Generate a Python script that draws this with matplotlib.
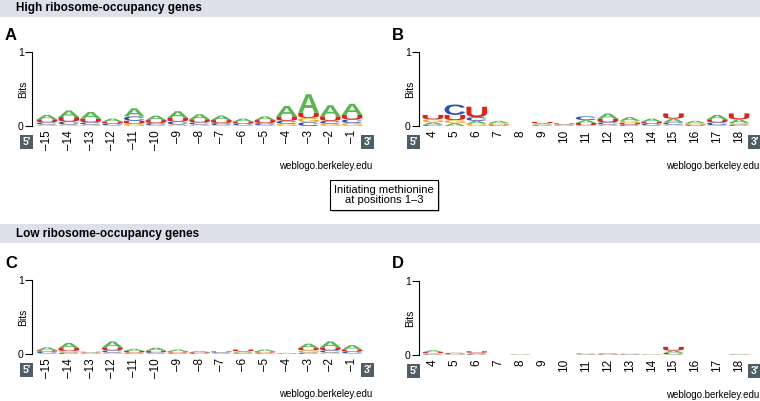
# Sequence logos around the start codon for high / low ribosome-occupancy genes.
import matplotlib
matplotlib.use('Agg')
import matplotlib.pyplot as plt
from matplotlib.patches import PathPatch, Rectangle
from matplotlib.textpath import TextPath
from matplotlib.font_manager import FontProperties
from matplotlib.transforms import Affine2D

plt.rcParams['font.family'] = ['Liberation Sans', 'DejaVu Sans']

# positions
up_pos = list(range(-15, 0))
down_pos = list(range(4, 19))

# panel A: high occupancy, upstream (bits per letter)
hi_up_A = [.06, .09, .09, .04, .11, .06, .09, .07, .06, .04, .05, .14, .25, .15, .15]
hi_up_C = [.03, .04, .03, .02, .06, .03, .04, .03, .03, .02, .03, .04, .05, .04, .05]
hi_up_G = [.02, .02, .02, .01, .03, .01, .02, .02, .01, .01, .01, .03, .06, .03, .04]
hi_up_U = [.04, .06, .05, .03, .04, .04, .05, .04, .04, .03, .04, .06, .07, .06, .06]

# panel B: high occupancy, downstream
hi_dn_A = [.03, .04, .04, .03, 0, .015, .01, .04, .07, .05, .04, .05, .03, .06, .05]
hi_dn_C = [.02, .14, .05, .01, 0, .01, .005, .05, .03, .02, .02, .03, .01, .04, .02]
hi_dn_G = [.04, .04, .03, .02, 0, .01, .005, .01, .02, .03, .01, .02, .02, .01, .02]
hi_dn_U = [.06, .07, .14, .01, 0, .02, .015, .03, .05, .02, .03, .07, .01, .04, .08]

# panel C: low occupancy, upstream
lo_up_A = [.04, .07, .01, .08, .03, .04, .025, .015, .01, .015, .025, .005, .06, .08, .06]
lo_up_C = [.02, .02, .005, .03, .01, .015, .01, .01, .01, .01, .01, .003, .02, .03, .02]
lo_up_G = [.01, .02, .005, .02, .01, .01, .01, .005, .005, .01, .01, .003, .03, .02, .01]
lo_up_U = [.02, .04, .01, .04, .02, .02, .015, .01, .01, .025, .015, .004, .03, .04, .03]

# panel D: low occupancy, downstream
lo_dn_A = [.025, .005, .015, 0, .003, 0, 0, .005, .008, .006, .003, .03, 0, 0, .005]
lo_dn_C = [.01, .015, .01, 0, .002, 0, 0, .008, .007, .005, .002, .02, 0, 0, .003]
lo_dn_G = [.015, .005, .005, 0, .003, 0, 0, .004, .005, .006, .003, .01, 0, 0, .005]
lo_dn_U = [.015, .005, .02, 0, .002, 0, 0, .003, .005, .003, .002, .05, 0, 0, .002]

colors = {'A': '#5ab552', 'C': '#2c4fb0', 'G': '#f2a81d', 'U': '#d7261e'}

W, H = 760, 401
fig = plt.figure(figsize=(W / 100, H / 100), dpi=100)


def fx(x):
    return x / W


def fy(y):
    return 1 - y / H


logo_font = FontProperties(family='Liberation Sans', weight='bold')
letter_paths = {ch: TextPath((0, 0), ch, size=1, prop=logo_font) for ch in 'ACGU'}


def draw_letter(ax, ch, x, y0, h, width=0.94):
    p = letter_paths[ch]
    ext = p.get_extents()
    t = (Affine2D().translate(-ext.x0, -ext.y0)
         .scale(width / ext.width, h / ext.height)
         .translate(x - width / 2, y0))
    ax.add_patch(PathPatch(t.transform_path(p), facecolor=colors[ch],
                           edgecolor='none', lw=0))


def logo_panel(left, top, right, bottom, xlim, positions, A, C, G, U, letter):
    ax = fig.add_axes([fx(left), fy(bottom), fx(right - left), (bottom - top) / H])
    xs = list(range(1, len(positions) + 1))
    for i, x in enumerate(xs):
        stack = sorted([('A', A[i]), ('C', C[i]), ('G', G[i]), ('U', U[i])],
                       key=lambda t: t[1])
        y0 = 0
        for ch, h in stack:
            if h > 0:
                draw_letter(ax, ch, x, y0, h)
            y0 += h
    ax.set_xlim(*xlim)
    ax.set_ylim(0, 1)
    for s in ['top', 'right', 'bottom']:
        ax.spines[s].set_visible(False)
    ax.spines['left'].set_linewidth(0.8)
    ax.set_yticks([0, 1])
    ax.set_yticklabels(['0', '1'], fontsize=7.5)
    ax.tick_params(axis='y', length=5, width=0.8, pad=1)
    ax.set_xticks(xs)
    ax.set_xticklabels([str(p).replace('-', '\u2013') for p in positions],
                       rotation=90, fontsize=8.5)
    ax.tick_params(axis='x', length=0, pad=3)
    ax.patch.set_alpha(0)

    fig.text(fx(left - 9), fy((top + bottom) / 2), 'Bits', rotation=90,
             ha='center', va='center', fontsize=7.5)
    # 5' / 3' tags
    for cx, lab in [(left - 5.5, "5\u2032"), (right + 4.5, "3\u2032")]:
        fig.text(fx(cx), fy(bottom + 16), lab, color='white', fontsize=7.5,
                 fontweight='bold', ha='center', va='center',
                 bbox=dict(boxstyle='square,pad=0.2', fc='#4f5d66', ec='none'))
    fig.text(fx(right + 9), fy(bottom + 40), 'weblogo.berkeley.edu',
             ha='right', va='center', fontsize=7)
    fig.text(fx(left - 27), fy(top - 17), letter, fontsize=12,
             fontweight='bold', ha='left', va='center')
    return ax


# header bands
for y0, y1, title in [(0, 17, 'High ribosome-occupancy genes'),
                      (224, 243, 'Low ribosome-occupancy genes')]:
    fig.patches.append(Rectangle((0, fy(y1)), 1, (y1 - y0) / H,
                                 transform=fig.transFigure, fc='#dde1e7',
                                 ec='none', zorder=0))
    fig.text(fx(16), fy((y0 + y1) / 2), title, fontsize=8.5,
             fontweight='bold', ha='left', va='center')

logo_panel(32, 52, 363, 126, (0.31, 15.5), up_pos,
           hi_up_A, hi_up_C, hi_up_G, hi_up_U, 'A')
logo_panel(419, 52, 750, 126, (0.36, 15.5), down_pos,
           hi_dn_A, hi_dn_C, hi_dn_G, hi_dn_U, 'B')
logo_panel(32, 280, 363, 354, (0.31, 15.5), up_pos,
           lo_up_A, lo_up_C, lo_up_G, lo_up_U, 'C')
logo_panel(419, 281, 750, 355, (0.36, 15.5), down_pos,
           lo_dn_A, lo_dn_C, lo_dn_G, lo_dn_U, 'D')

# middle note box with a light shadow
fig.patches.append(Rectangle((fx(332), fy(212)), fx(108), 30 / H,
                             transform=fig.transFigure, fc='#cccccc',
                             ec='none', zorder=1))
fig.patches.append(Rectangle((fx(330), fy(210)), fx(108), 30 / H,
                             transform=fig.transFigure, fc='white',
                             ec='black', lw=0.8, zorder=2))
fig.text(fx(384), fy(195), 'Initiating methionine\nat positions 1\u20133',
         ha='center', va='center', fontsize=8, linespacing=1.1, zorder=3)

fig.savefig('out.png', dpi=100)
